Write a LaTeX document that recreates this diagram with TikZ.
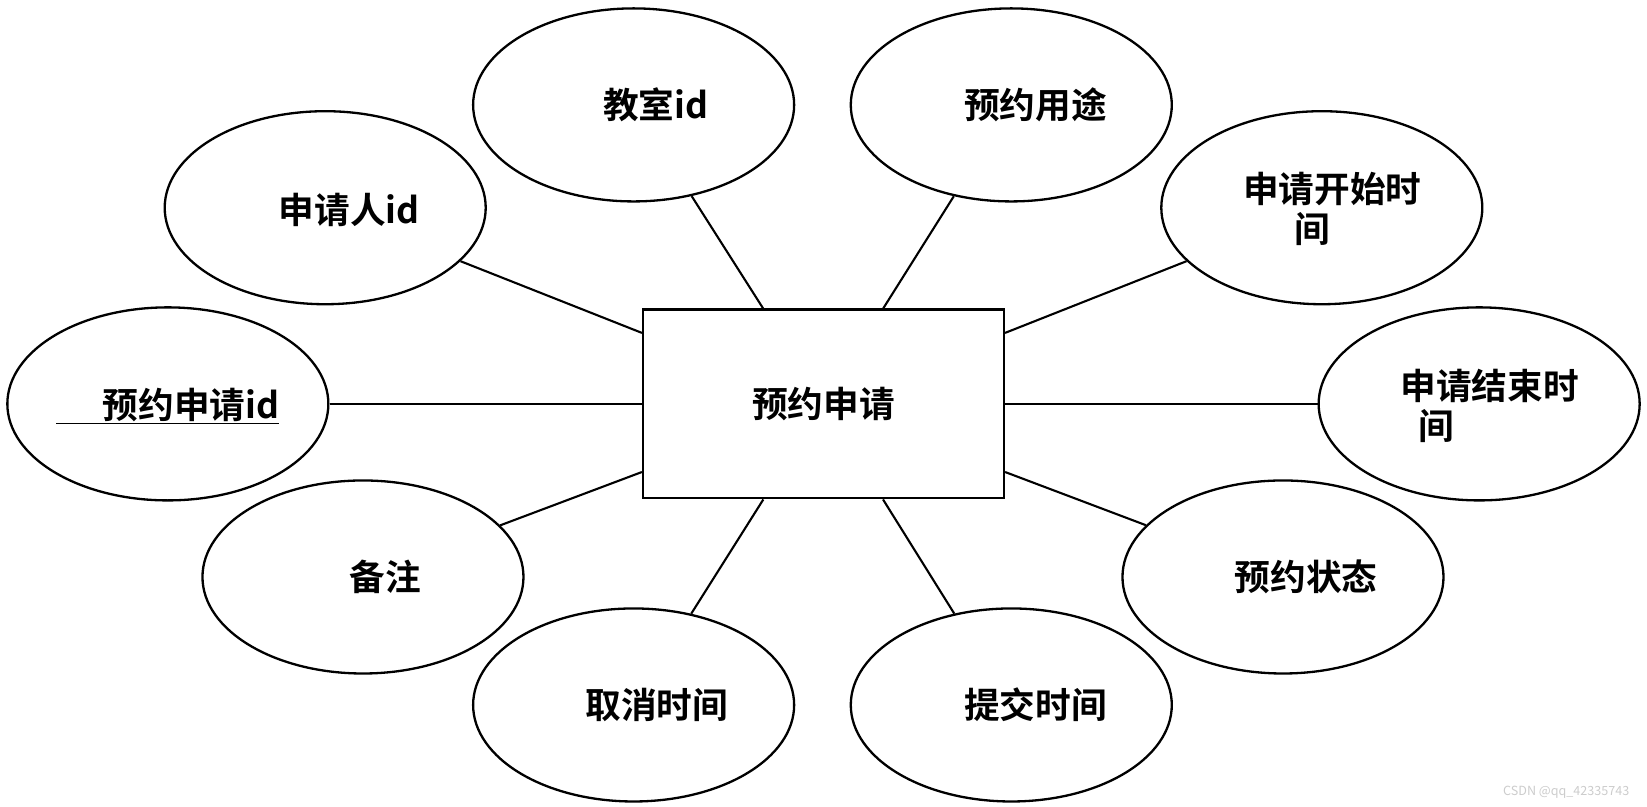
\documentclass[tikz,border=0pt]{standalone}
\usepackage{fontspec}
\setmainfont{Noto Sans CJK SC}[BoldFont={* Bold}]
\usetikzlibrary{shapes.geometric}
\begin{document}
\begin{tikzpicture}[x=1pt,y=-1pt,
  attr/.style={draw,ellipse,line width=2.2pt,minimum width=306pt,minimum height=184pt,inner sep=0pt},
  txt/.style={font=\fontsize{34}{42}\selectfont\bfseries,align=center},
  lnk/.style={line width=2pt}]
\useasboundingbox (0,0) rectangle (1570,769);
\node[draw,line width=2.2pt,minimum width=344pt,minimum height=180pt,inner sep=0pt] (c) at (785,385) {};
\node[txt] at (785,385) {预约申请};
\node[attr] (a1) at (604,100) {};
\node[attr] (a2) at (964,100) {};
\node[attr] (a3) at (310,198) {};
\node[attr] (a4) at (1260,198) {};
\node[attr] (a5) at (160,385) {};
\node[attr] (a6) at (1410,385) {};
\node[attr] (a7) at (346,550) {};
\node[attr] (a8) at (1223,550) {};
\node[attr] (a9) at (604,672) {};
\node[attr] (a10) at (964,672) {};
\node[txt] (t1) at (625,100) {教室id};
\node[txt] (t2) at (987,100) {预约用途};
\node[txt] (t3) at (333,200) {申请人id};
\node[txt] (t4) at (1270,199) {申请开始时\\[-4pt]间\hspace*{1.1em}};
\node[txt] (t5) at (160,387) {\underline{\hspace*{1.3em}预约申请id}};
\node[txt] (t6) at (1420,387) {申请结束时\\[-4pt]间\hspace*{3em}};
\node[txt] (t7) at (367,550) {备注};
\node[txt] (t8) at (1245,550) {预约状态};
\node[txt] (t9) at (626,672) {取消时间};
\node[txt] (t10) at (987,672) {提交时间};
\foreach \i in {1,...,10} \draw[lnk] (a\i) -- (c);
\node[font=\fontsize{12}{14}\selectfont,text=black!20] at (1493,755) {CSDN @qq\_42335743};
\end{tikzpicture}
\end{document}
